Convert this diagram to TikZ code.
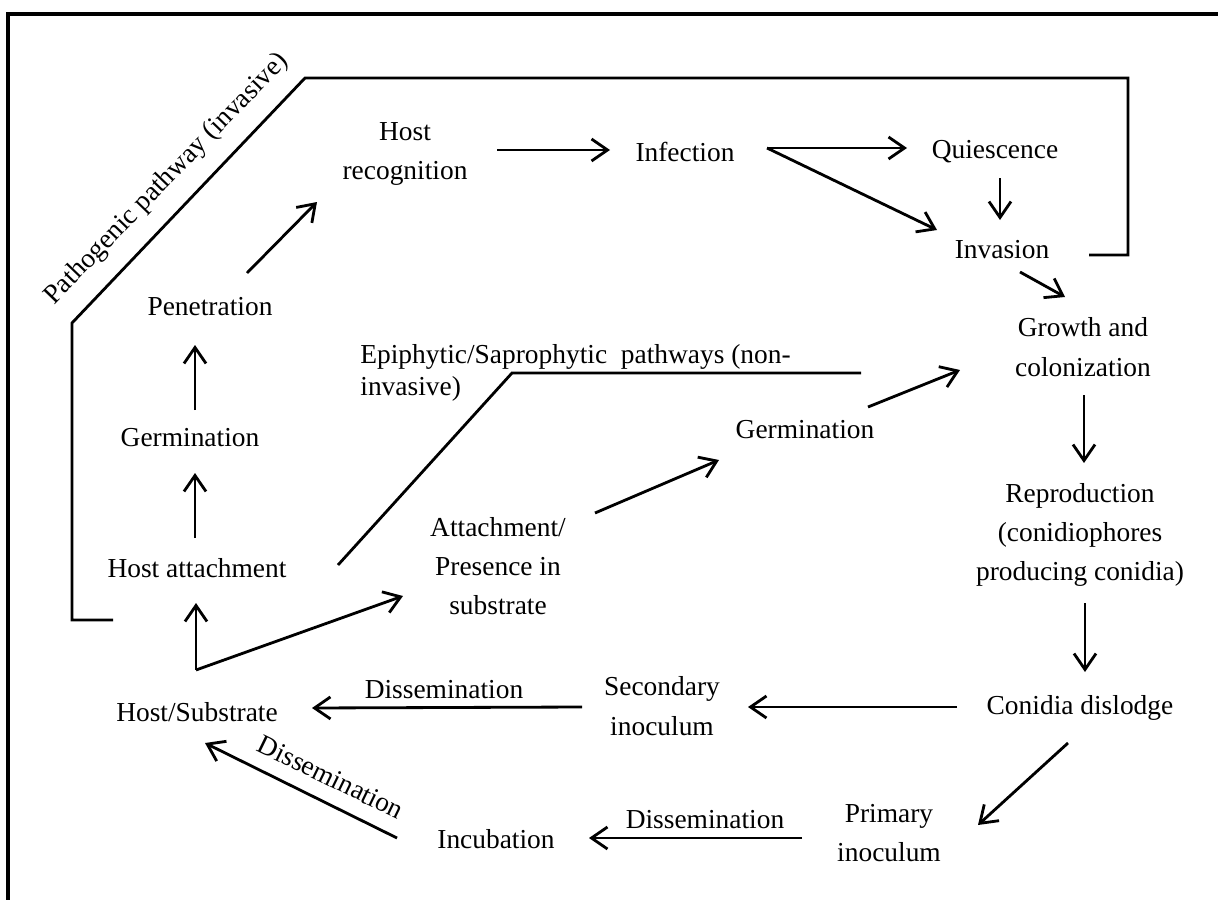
\documentclass[tikz,border=0pt]{standalone}
\usepackage{fontspec}
\setmainfont{Liberation Serif}
\usetikzlibrary{arrows.meta}

\begin{document}
\begin{tikzpicture}[x=0.025cm, y=-0.025cm, line width=2pt,
    every node/.style={font=\fontsize{19.5}{28}\selectfont, align=center, inner sep=0pt},
    arr/.style={-{Straight Barb[length=4mm, width=5.5mm]}}]
    \useasboundingbox (0,0) rectangle (1218,900);
    \draw [line width=2.5pt] (1218,14) -- (8,14) -- (8,900);

    \foreach \name/\pos/\txt in {
        hostrec/{405,154}/{Host\\recognition},
        infection/{685,152}/{Infection},
        quiesc/{995,152}/{Quiescence},
        invasion/{1002,250}/{Invasion},
        growth/{1083,347}/{Growth and\\colonization},
        penetr/{210,307}/{Penetration},
        germl/{190,438}/{Germination},
        hostatt/{197,568}/{Host attachment},
        hostsub/{197,712}/{Host/Substrate},
        attach/{498,566}/{Attachment/\\Presence in\\substrate},
        germm/{805,430}/{Germination},
        repro/{1080,535}/{Reproduction\\(conidiophores\\producing conidia)},
        conidia/{1080,708}/{Conidia dislodge},
        second/{662,706}/{Secondary\\inoculum},
        primary/{889,833}/{Primary\\inoculum},
        incub/{496,839}/{Incubation}}
        \node (\name) at (\pos) {\txt};

    \node [rotate=46] (pathlbl) at (167,179) {Pathogenic pathway (invasive)};
    \node [anchor=west, align=left, font=\fontsize{19.5}{23}\selectfont] (epilbl)
        at (359,373) {Epiphytic/Saprophytic\ \ pathways (non-\\invasive)};
    \node (dissup) at (444,690) {Dissemination};
    \node [rotate=-26] (disslow) at (331,777) {Dissemination};
    \node (dissprim) at (705,820) {Dissemination};

    \draw (113,620) -- (72,620) -- (72,323) -- (305,78) -- (1128,78)
        -- (1128,255) -- (1089,255);
    \draw (338,565) -- (512,373) -- (861,373);

    \foreach \a/\sa/\b/\sb in {
        hostrec/{92,-4}/infection/{-75,-2},
        infection/{82,-4}/quiesc/{-88,-4},
        infection/{82,-4}/invasion/{-65,-20},
        quiesc/{5,26}/invasion/{-2,-30},
        invasion/{18,22}/growth/{-18,-50},
        penetr/{37,-34}/hostrec/{-88,48},
        germl/{5,-28}/penetr/{-15,38},
        hostatt/{-2,-30}/germl/{5,35},
        hostsub/{-1,-42}/hostatt/{-1,35},
        hostsub/{-1,-42}/attach/{-95,30},
        attach/{97,-53}/germm/{-86,30},
        germm/{63,-23}/growth/{-123,23},
        growth/{1,48}/repro/{4,-72},
        repro/{5,68}/conidia/{5,-36},
        conidia/{-123,-1}/second/{86,1},
        conidia/{-12,35}/primary/{89,-8},
        second/{-80,1}/hostsub/{115,-4},
        primary/{-87,5}/incub/{93,-1},
        incub/{-99,-1}/hostsub/{8,31}}
        \draw [arr] ([shift={(\sa)}]\a.center) -- ([shift={(\sb)}]\b.center);
\end{tikzpicture}
\end{document}
